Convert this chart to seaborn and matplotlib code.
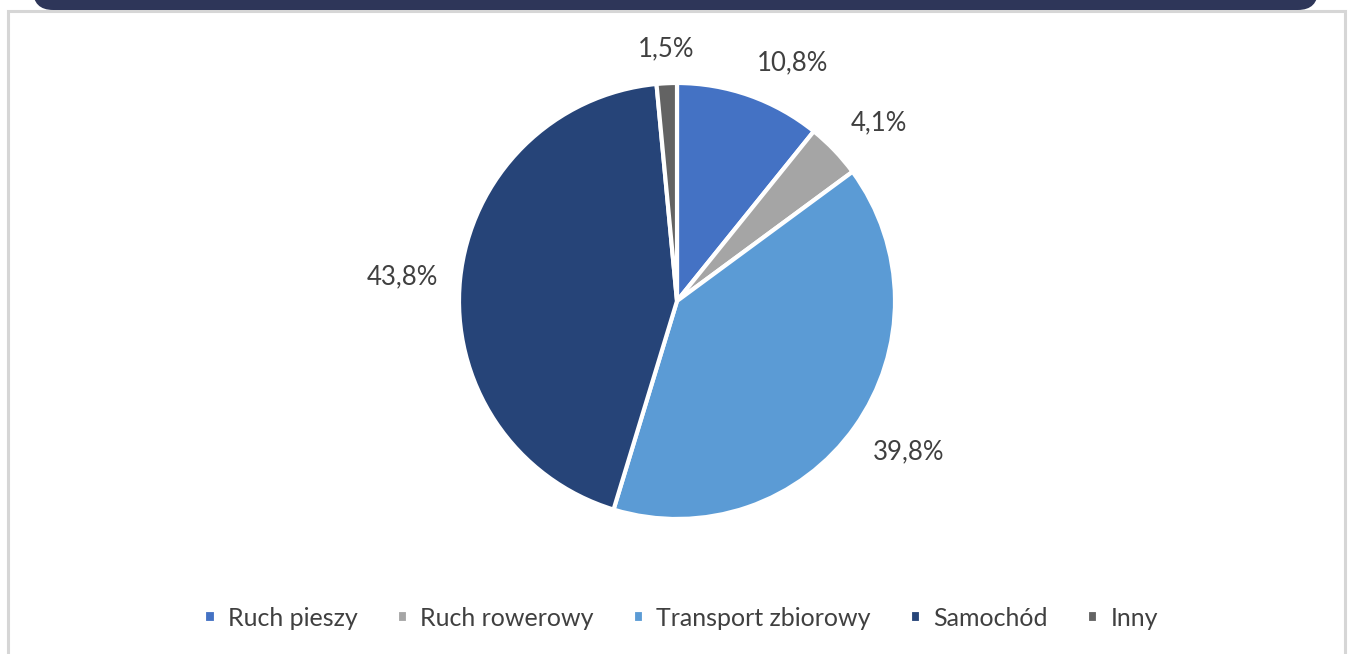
import matplotlib
matplotlib.use("Agg")
import numpy as np
import matplotlib.pyplot as plt
import seaborn as sns
from matplotlib.patches import FancyBboxPatch, Rectangle

# dane
categories = ['Ruch pieszy', 'Ruch rowerowy', 'Transport zbiorowy', 'Samochód', 'Inny']
shares = [10.8, 4.1, 39.8, 43.8, 1.5]
colors = ['#4472C4', '#A5A5A5', '#5B9BD5', '#264478', '#636363']

sns.set_theme(style="white")
plt.rcParams['font.family'] = ['Lato', 'DejaVu Sans']

W, H = 1349, 654
fig = plt.figure(figsize=(W / 100, H / 100), dpi=100)
fig.patch.set_facecolor('white')

# ramka i pasek na górze
fig.patches.append(Rectangle((8 / W, -0.05), (1345 - 8) / W, (H - 11) / H + 0.05,
                             transform=fig.transFigure, facecolor='none',
                             edgecolor='#D6D6D6', linewidth=2.2, zorder=-1))
fig.patches.append(FancyBboxPatch((33 / W, (H - 10) / H), (1318 - 33) / W, 0.1,
                                  boxstyle="round,pad=0,rounding_size=0.015",
                                  transform=fig.transFigure, facecolor='#2E3659',
                                  edgecolor='none', zorder=-1,
                                  mutation_aspect=W / H))

# wykres kołowy
cx, cy, r = 677, 301, 218
ax = fig.add_axes([(cx - r) / W, (H - cy - r) / H, 2 * r / W, 2 * r / H])
ax.set_zorder(2)
wedges, _ = ax.pie(
    shares, colors=colors, startangle=90, counterclock=False,
    wedgeprops=dict(edgecolor='white', linewidth=3))

# etykiety poza kołem, jak w Excelu (róg etykiety przy promieniu 1.1)
for w, val in zip(wedges, shares):
    ang = np.deg2rad((w.theta1 + w.theta2) / 2)
    c, s = np.cos(ang), np.sin(ang)
    ha = 'left' if c > 0.2 else ('right' if c < -0.2 else 'center')
    va = 'bottom' if s > 0.3 else ('top' if s < -0.3 else 'center')
    ax.text(1.1 * c, 1.1 * s, f"{val:.1f}%".replace('.', ','), ha=ha, va=va,
            fontsize=18.5, color='#404040', clip_on=False)

ax.set_xlim(-1, 1)
ax.set_ylim(-1, 1)
ax.set_aspect('equal')
ax.axis('off')

# legenda
fig.legend(wedges, categories, loc='center', bbox_to_anchor=(0.505, 1 - 618 / H),
           ncol=5, frameon=False, fontsize=18, labelcolor='#404040',
           handlelength=0.45, handleheight=0.45, handletextpad=0.5,
           columnspacing=1.55)

fig.savefig('out.png', dpi=100)
